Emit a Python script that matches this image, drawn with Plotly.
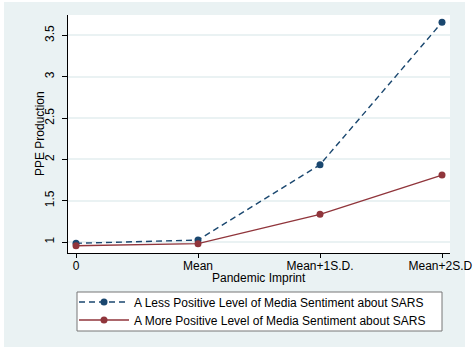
import plotly.graph_objects as go

categories = ["0", "Mean", "Mean+1S.D.", "Mean+2S.D."]
less_positive = [0.984, 1.024, 1.936, 3.66]
more_positive = [0.955, 0.98, 1.335, 1.81]
y_ticks = [1, 1.5, 2, 2.5, 3, 3.5]
y_tick_labels = ["1", "1.5", "2", "2.5", "3", "3.5"]

x_pos = list(range(len(categories)))
BLUE = "#1A476F"
RED = "#90353B"
BG = "#EAF2F3"
FONT = "Liberation Sans, Arial, sans-serif"

L, R, T, B = 68, 23, 15, 94
W, H = 473, 347
pw, ph = W - L - R, H - T - B

def px(x):
    return (x - L) / pw

def py(y):
    return (H - B - y) / ph

fig = go.Figure()
fig.add_trace(go.Scatter(
    x=x_pos, y=less_positive, mode="lines+markers",
    name="A Less Positive Level of Media Sentiment about SARS",
    line=dict(color=BLUE, width=1.4, dash="6px,4px"),
    marker=dict(color=BLUE, size=7),
    legend="legend",
))
fig.add_trace(go.Scatter(
    x=x_pos, y=more_positive, mode="lines+markers",
    name="A More Positive Level of Media Sentiment about SARS",
    line=dict(color=RED, width=1.4),
    marker=dict(color=RED, size=7),
    legend="legend2",
))

shapes = [
    dict(type="rect", xref="paper", yref="paper", x0=px(-2), x1=px(4), y0=py(350), y1=py(-2),
         fillcolor="white", line=dict(width=0), layer="below"),
    dict(type="rect", xref="paper", yref="paper", x0=px(465), x1=px(476), y0=py(350), y1=py(-2),
         fillcolor="white", line=dict(width=0), layer="below"),
    dict(type="rect", xref="paper", yref="paper", x0=px(-2), x1=px(476), y0=py(2), y1=py(-2),
         fillcolor="white", line=dict(width=0), layer="below"),
    dict(type="rect", xref="paper", yref="paper", x0=px(77), x1=px(442), y0=py(331), y1=py(292),
         fillcolor="white", line=dict(color="#777777", width=1), layer="below"),
]

legend_common = dict(
    xanchor="left", yanchor="middle",
    bgcolor="rgba(0,0,0,0)", borderwidth=0,
    font=dict(family=FONT, size=12, color="black"),
    itemwidth=50,
)

fig.update_layout(
    width=W, height=H,
    margin=dict(l=L, r=R, t=T, b=B, autoexpand=False),
    paper_bgcolor=BG, plot_bgcolor="white",
    font=dict(family=FONT, size=12, color="black"),
    shapes=shapes,
    showlegend=True,
    legend=dict(x=px(74), y=py(302), **legend_common),
    legend2=dict(x=px(74), y=py(320), **legend_common),
    annotations=[
        dict(text="Pandemic Imprint", xref="paper", yref="paper", x=0.5, y=py(278),
             xanchor="center", yanchor="middle", showarrow=False, font=dict(size=12)),
        dict(text="PPE Production", xref="paper", yref="paper", x=px(40), y=0.5,
             xanchor="center", yanchor="middle", showarrow=False, textangle=-90,
             font=dict(size=12)),
    ],
    xaxis=dict(
        range=[-0.0656, 3.0656], tickmode="array", tickvals=x_pos, ticktext=categories,
        showgrid=False, zeroline=False, showline=True, linecolor="black", linewidth=1,
        ticks="outside", ticklen=4, tickcolor="black", ticklabeloverflow="allow",
        ticklabelstandoff=-2, automargin=False,
    ),
    yaxis=dict(
        range=[0.867, 3.748], tickmode="array", tickvals=y_ticks, ticktext=y_tick_labels,
        tickangle=-90, showgrid=True, gridcolor=BG, gridwidth=1.6, zeroline=False,
        showline=True, linecolor="black", linewidth=1,
        ticks="outside", ticklen=5, tickcolor="black", ticklabeloverflow="allow",
        ticklabelstandoff=3, automargin=False,
    ),
)

fig.write_html(
    "out.html",
    config={"displayModeBar": False},
    post_script="document.body.style.margin='0';document.body.style.overflow='hidden';",
)
